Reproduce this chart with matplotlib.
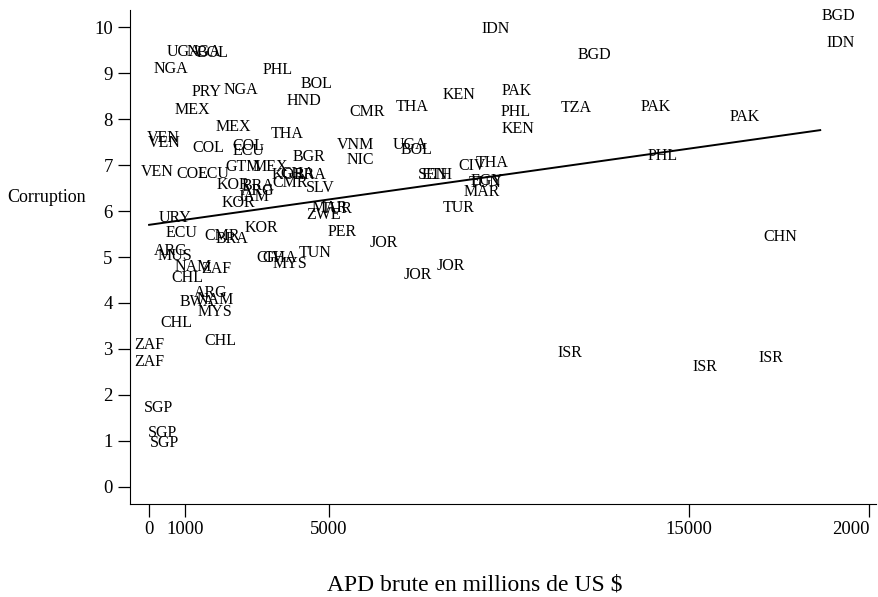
import matplotlib
matplotlib.use("Agg")
import matplotlib.pyplot as plt
import numpy as np

plt.rcParams['font.family'] = ['Liberation Serif', 'DejaVu Serif']

# country codes, gross ODA (millions US$) and corruption score
pays = ['NGA', 'UGA', 'NGA', 'BOL', 'PHL', 'BOL', 'HND', 'PRY', 'NGA', 'MEX',
        'MEX', 'CMR', 'THA', 'KEN', 'IDN', 'BGD', 'PAK', 'PHL', 'KEN', 'TZA',
        'PAK', 'PAK', 'BGD', 'IDN', 'PHL', 'CHN', 'ISR', 'ISR', 'ISR', 'THA',
        'VEN', 'VEN', 'COL', 'COL', 'ECU', 'VEN', 'COL', 'ECU', 'GTM', 'MEX',
        'KOR', 'BRA', 'GHA', 'BGR', 'CMR', 'SLV', 'KOR', 'BRA', 'JAM', 'ARG',
        'KOR', 'URY', 'ECU', 'CMR', 'BRA', 'KOR', 'ARG', 'MUS', 'NAM', 'ZAF',
        'CHL', 'CIV', 'GHA', 'MYS', 'TUN', 'ARG', 'BWA', 'NAM', 'MYS', 'CHL',
        'CHL', 'ZAF', 'ZAF', 'SGP', 'SGP', 'SGP', 'VNM', 'NIC', 'UGA', 'BOL',
        'SEN', 'ETH', 'CIV', 'THA', 'TUN', 'EGY', 'MAR', 'TUR', 'TUR', 'ZWE',
        'MAR', 'PER', 'JOR', 'JOR', 'JOR']
apd = [611, 972, 1528, 1750, 3583, 4639, 4306, 1583, 2556, 1194,
       2333, 6056, 7306, 8611, 9639, 12361, 10222, 10194, 10250, 11861,
       14083, 16556, 19139, 19222, 14278, 17528, 11694, 15444, 17278, 3833,
       389, 417, 1639, 2750, 2750, 222, 1194, 1778, 2611, 3361,
       3861, 4472, 4139, 4444, 3917, 4750, 2333, 3028, 2917, 3028,
       2472, 722, 889, 2028, 2306, 3111, 611, 722, 1222, 1861,
       1056, 3361, 3639, 3917, 4611, 1722, 1333, 1833, 1833, 750,
       1972, 0, 0, 250, 361, 417, 5722, 5861, 7250, 7417,
       7889, 8000, 8972, 9528, 9333, 9389, 9250, 8611, 5222, 4833,
       5028, 5361, 6528, 7472, 8389]
corruption = [9.09, 9.46, 9.46, 9.43, 9.07, 8.76, 8.39, 8.59, 8.63, 8.20,
              7.83, 8.15, 8.26, 8.52, 9.96, 9.39, 8.61, 8.15, 7.78, 8.24,
              8.26, 8.04, 10.24, 9.65, 7.20, 5.43, 2.91, 2.61, 2.80, 7.67,
              7.59, 7.48, 7.37, 7.41, 7.30, 6.85, 6.80, 6.80, 6.96, 6.96,
              6.78, 6.78, 6.80, 7.17, 6.61, 6.50, 6.57, 6.54, 6.30, 6.43,
              6.17, 5.85, 5.52, 5.46, 5.39, 5.63, 5.13, 5.02, 4.78, 4.74,
              4.54, 4.98, 4.98, 4.85, 5.09, 4.22, 4.02, 4.07, 3.80, 3.57,
              3.17, 3.09, 2.72, 1.72, 1.17, 0.96, 7.43, 7.11, 7.43, 7.33,
              6.78, 6.78, 6.98, 7.04, 6.61, 6.65, 6.41, 6.07, 6.04, 5.91,
              6.07, 5.54, 5.30, 4.61, 4.80]

# fitted line
fit_x = [0, 18640]
fit_y = [5.70, 7.76]

fig = plt.figure(figsize=(8.79, 5.97), dpi=100)
ax = fig.add_axes([0.148, 0.156, 0.849, 0.827])

for p, x, y in zip(pays, apd, corruption):
    ax.text(x, y, p, fontsize=11.5, ha='center', va='center')

ax.plot(fit_x, fit_y, color='black', lw=1.4)

ax.set_xlim(-528, 20200)
ax.set_ylim(-0.37, 10.37)
ax.set_xticks([0, 1000, 5000, 15000, 20000])
ax.set_xticklabels(['0', '1000', '5000', '15000', '2000'])
ax.get_xticklabels()[-1].set_horizontalalignment('right')
ax.set_yticks(np.arange(0, 11))
ax.spines['top'].set_visible(False)
ax.spines['right'].set_visible(False)
ax.tick_params(axis='both', labelsize=13.5, length=9, width=0.9, direction='out')
ax.tick_params(axis='x', pad=3)

fig.text(7 / 879, 1 - 197 / 597, 'Corruption', fontsize=13, ha='left', va='center')
fig.text(475 / 879, 1 - 585 / 597, 'APD brute en millions de US $', fontsize=17,
         ha='center', va='center')

fig.savefig('out.png', dpi=100)
